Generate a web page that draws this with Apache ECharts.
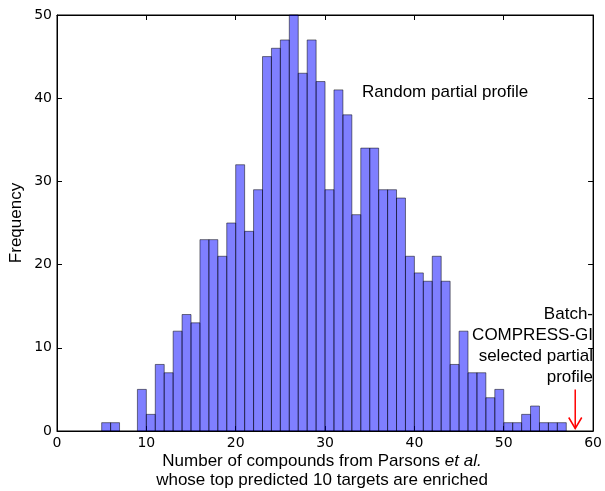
<!DOCTYPE html>
<html>
<head>
<meta charset="utf-8">
<script src="https://cdn.jsdelivr.net/npm/echarts@6/dist/echarts.min.js"></script>
<style>
  html, body { margin: 0; padding: 0; background: #fff; }
  #chart { width: 605px; height: 491px; }
</style>
</head>
<body>
<div id="chart"></div>
<script>
// Histogram of enriched-compound counts over random partial profiles.
// Left edge of each unit-width bin.
const binLeft = [5, 6, 7, 8, 9, 10, 11, 12, 13, 14, 15, 16, 17, 18, 19, 20,
  21, 22, 23, 24, 25, 26, 27, 28, 29, 30, 31, 32, 33, 34, 35, 36, 37, 38, 39,
  40, 41, 42, 43, 44, 45, 46, 47, 48, 49, 50, 51, 52, 53, 54, 55, 56];
const binWidth = 1;
// Frequency in each bin.
const frequency = [1, 1, 0, 0, 5, 2, 8, 7, 12, 14, 13, 23, 23, 21, 25, 32,
  24, 29, 45, 46, 47, 50, 43, 47, 42, 29, 41, 38, 26, 34, 34, 29, 29, 28, 21,
  19, 18, 21, 18, 8, 12, 7, 7, 4, 5, 1, 1, 2, 3, 1, 1, 1];

// Axis ticks.
const xTicks = [0, 10, 20, 30, 40, 50, 60];
const yTicks = [0, 10, 20, 30, 40, 50];

// Value reached by the Batch-COMPRESS-GI selected profile (arrow position).
const selectedValue = [58];
const arrowSpan = [5, 0.3];

// Annotation lines.
const randomLabel = 'Random partial profile';
const selectedLabelLines = ['Batch-', 'COMPRESS-GI', 'selected partial', 'profile'];

const sansText = '"Liberation Sans", Arial, sans-serif';
const tickFont = '"DejaVu Sans", sans-serif';
const textFont = '17px ' + sansText;

const chart = echarts.init(document.getElementById('chart'), null, { renderer: 'canvas' });

const gridBox = { left: 57, top: 15, width: 538, height: 416 };

function axisBase(pos, showLabels, isX) {
  return {
    type: 'value',
    position: pos,
    min: isX ? xTicks[0] : yTicks[0],
    max: isX ? xTicks[xTicks.length - 1] : yTicks[yTicks.length - 1],
    interval: 10,
    axisLine: { show: true, onZero: false, lineStyle: { color: '#000', width: 1 } },
    axisTick: { show: true, inside: true, length: 5, lineStyle: { color: '#000', width: 1 } },
    axisLabel: {
      show: showLabels,
      color: '#000',
      fontFamily: tickFont,
      fontSize: 14,
      margin: 5
    },
    splitLine: { show: false }
  };
}

const graphics = [
  {
    type: 'text',
    x: 362, y: 92,
    style: { text: randomLabel, font: textFont, fill: '#000', align: 'left', verticalAlign: 'middle' }
  },
  {
    type: 'text',
    x: 16, y: 223, rotation: Math.PI / 2,
    style: { text: 'Frequency', font: textFont, fill: '#000', align: 'center', verticalAlign: 'middle' }
  },
  {
    type: 'text',
    x: 322, y: 461,
    style: {
      text: '{n|Number of compounds from Parsons }{i|et al.}',
      align: 'center', verticalAlign: 'middle',
      rich: {
        n: { font: textFont, fill: '#000' },
        i: { font: 'italic ' + textFont, fill: '#000' }
      }
    }
  },
  {
    type: 'text',
    x: 322, y: 480,
    style: {
      text: 'whose top predicted 10 targets are enriched',
      font: textFont, fill: '#000', align: 'center', verticalAlign: 'middle'
    }
  }
];
// Right-aligned multi-line label next to the arrow
selectedLabelLines.forEach((line, i) => {
  graphics.push({
    type: 'text',
    x: 593, y: 314 + i * 21,
    style: { text: line, font: textFont, fill: '#000', align: 'right', verticalAlign: 'middle' }
  });
});

chart.setOption({
  animation: false,
  backgroundColor: '#fff',
  grid: Object.assign({ show: true, borderColor: '#000', borderWidth: 1, backgroundColor: 'transparent' }, gridBox),
  xAxis: [axisBase('bottom', true, true), axisBase('top', false, true)],
  yAxis: [axisBase('left', true, false), axisBase('right', false, false)],
  series: [
    {
      type: 'custom',
      xAxisIndex: 0,
      yAxisIndex: 0,
      data: binLeft.map((x, i) => [x, frequency[i]]),
      renderItem: function (params, api) {
        const x0 = api.value(0);
        const h = api.value(1);
        if (!h) return null;
        const base = api.coord([x0, 0]);
        const top = api.coord([x0 + binWidth, h]);
        return {
          type: 'rect',
          shape: { x: base[0], y: top[1], width: top[0] - base[0], height: base[1] - top[1] },
          style: { fill: 'rgba(0,0,255,0.5)', stroke: 'rgba(0,0,0,0.5)', lineWidth: 1 }
        };
      }
    },
    {
      // Red arrow pointing to the selected profile's value
      type: 'custom',
      xAxisIndex: 0,
      yAxisIndex: 0,
      data: selectedValue.map(v => [v, arrowSpan[0], arrowSpan[1]]),
      renderItem: function (params, api) {
        const from = api.coord([api.value(0), api.value(1)]);
        const to = api.coord([api.value(0), api.value(2)]);
        const hl = 11, hw = 6.5;
        const style = { stroke: '#ff0000', lineWidth: 1.5, fill: null };
        return {
          type: 'group',
          children: [
            { type: 'line', shape: { x1: from[0], y1: from[1], x2: to[0], y2: to[1] }, style: style },
            { type: 'polyline', shape: { points: [[to[0] - hw, to[1] - hl], [to[0], to[1]], [to[0] + hw, to[1] - hl]] }, style: style }
          ]
        };
      }
    }
  ],
  graphic: graphics
});
</script>
</body>
</html>
